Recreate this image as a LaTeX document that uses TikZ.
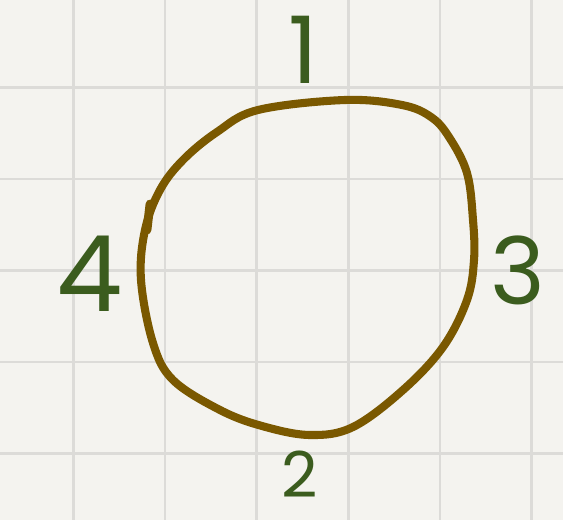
\documentclass[tikz,border=0pt]{standalone}
\usepackage{fontspec}
\newfontfamily\handfont{Poppins}
\definecolor{paper}{HTML}{F4F3EF}
\definecolor{gridline}{HTML}{DCDBD8}
\definecolor{loopbrown}{HTML}{7A5800}
\definecolor{labgreen}{HTML}{3B5C1E}
\begin{document}
\begin{tikzpicture}[x=0.02cm,y=-0.02cm,
every node/.style={text=labgreen,inner sep=0pt,font=\handfont}]
\useasboundingbox (0,0) rectangle (563,520);
\fill[paper] (0,0) rectangle (563,520);
% squared paper
\foreach \x in {73.5,165,256.5,348.5,440,531.5}
  \draw[gridline,line width=1.2pt] (\x,0) -- (\x,520);
\foreach \y in {87.5,179,270.5,362,453.5}
  \draw[gridline,line width=1.2pt] (0,\y) -- (563,\y);
% the loop
\draw[loopbrown,line width=4.6pt,line join=round] plot[smooth cycle,tension=0.6] coordinates {
  (258,110) (345,100) (402,105) (431,117) (449,137) (467,173) (473,220)
  (474,260) (467,300) (443,347) (403,390) (353,427) (310,435) (262,426)
  (220,410) (173,380) (153,343) (141,280) (145,230) (160,190) (183,160) (217,132)};
\draw[loopbrown,line width=5pt,line cap=round] (150,204) -- (147,230);
% labels
\node (n1) at (303,50) {\fontsize{53}{53}\selectfont 1};
\node (n4) at (90,274) {\fontsize{60}{60}\selectfont 4};
\node (n3) at (518,270) {\fontsize{53}{53}\selectfont 3};
\node (n2) at (300,474) {\fontsize{36}{36}\selectfont 2};
\end{tikzpicture}
\end{document}
